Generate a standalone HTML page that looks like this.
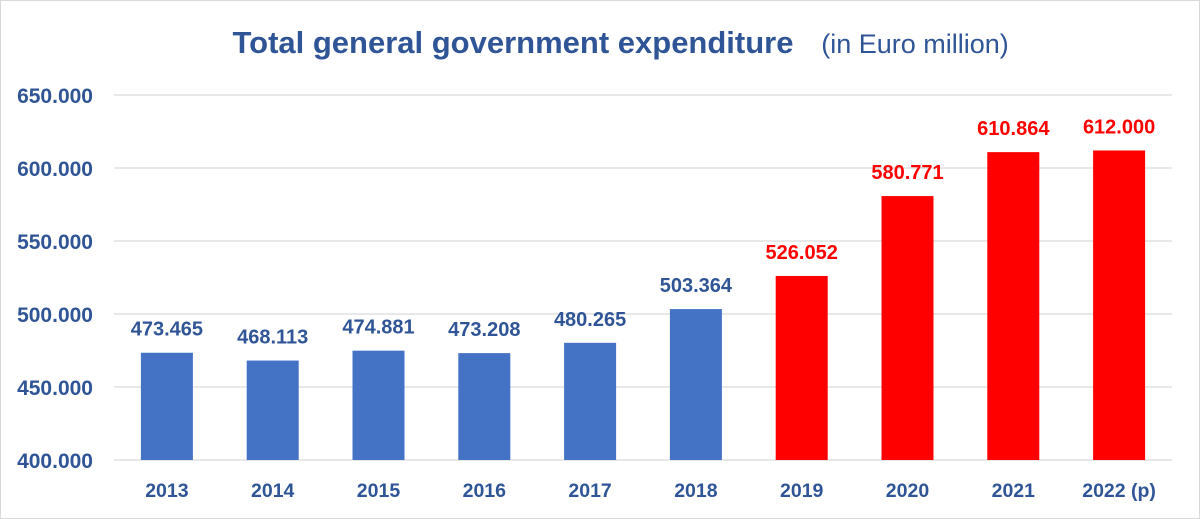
<!DOCTYPE html>
<html><head><meta charset="utf-8"><style>
body{margin:0;background:#fff;}
svg{display:block;font-family:"Liberation Sans",sans-serif;}
</style></head><body>
<svg id="c" width="1200" height="519" xmlns="http://www.w3.org/2000/svg">
<rect x="0.5" y="0.5" width="1199" height="518" fill="#fff" stroke="#d9d9d9"/>
<text x="513" y="53" text-anchor="middle" font-size="31" font-weight="bold" fill="#2F5597">Total general government expenditure</text>
<text x="915" y="53" text-anchor="middle" font-size="27" fill="#2F5597">(in Euro million)</text>
<g id="grid"></g><g id="bars"></g><g id="labels"></g>
</svg>
<script>
const categories=["2013","2014","2015","2016","2017","2018","2019","2020","2021","2022 (p)"];
const values=[473465,468113,474881,473208,480265,503364,526052,580771,610864,612000];
const valueLabels=["473.465","468.113","474.881","473.208","480.265","503.364","526.052","580.771","610.864","612.000"];
const highlighted=[false,false,false,false,false,false,true,true,true,true];
const yTicks=[400000,450000,500000,550000,600000,650000];
const yTickLabels=["400.000","450.000","500.000","550.000","600.000","650.000"];
const NS="http://www.w3.org/2000/svg";
const left=114,right=1172,yMin=400000,yMax=650000,yBot=460,yTop=95;
const band=(right-left)/categories.length;
const y=v=>yBot-(v-yMin)/(yMax-yMin)*(yBot-yTop);
const x=i=>left+band*(i+0.5);
function mk(t,a,p){const e=document.createElementNS(NS,t);for(const k in a)e.setAttribute(k,a[k]);p.appendChild(e);return e;}
const g=document.getElementById('grid'),b=document.getElementById('bars'),l=document.getElementById('labels');
yTicks.forEach((v,i)=>{
 const ln=mk('line',{x1:left,x2:right,y1:y(v),y2:y(v),stroke:'#d9d9d9','stroke-width':1.3},g);
 
 
 const t=mk('text',{x:93,y:y(v)+8,'text-anchor':'end','font-size':21,'font-weight':'bold',fill:'#2F5597'},g);
 t.textContent=yTickLabels[i];
 
 
});
categories.forEach((c,i)=>{
 const col=highlighted[i]?'#FF0000':'#4472C4';
 const r=mk('rect',{x:x(i)-26,y:y(values[i]),width:52,height:yBot-y(values[i]),fill:col},b);
 
 
 const vt=mk('text',{x:x(i),y:y(values[i])-17,'text-anchor':'middle','font-size':20,'font-weight':'bold',fill:highlighted[i]?'#FF0000':'#2F5597'},l);
 vt.textContent=valueLabels[i];
 
 
 const ct=mk('text',{x:x(i),y:497,'text-anchor':'middle','font-size':19.5,'font-weight':'bold',fill:'#2F5597'},l);
 ct.textContent=c;
 
 
});
</script>
</body></html>
